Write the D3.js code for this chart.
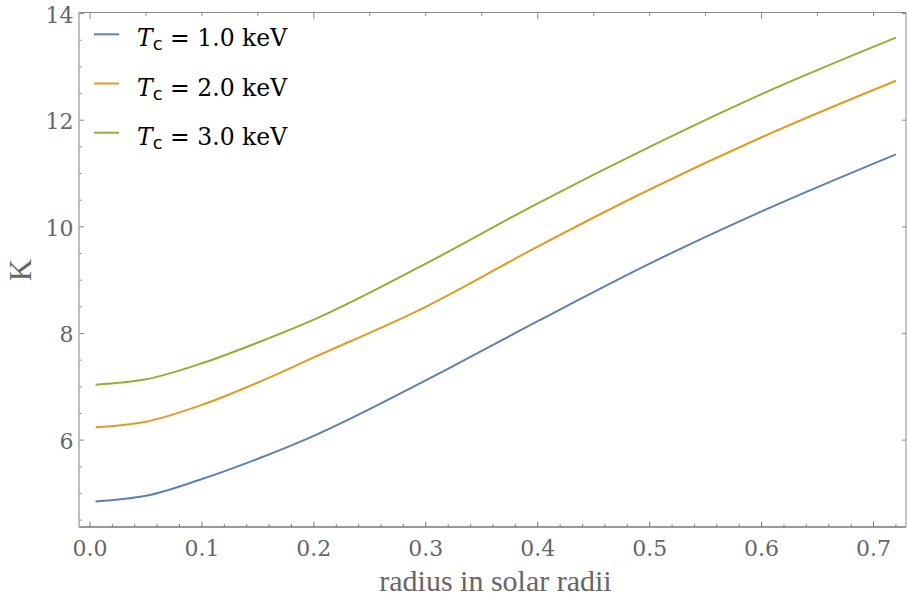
<!DOCTYPE html>
<html><head><meta charset="utf-8">
<script src="https://cdn.jsdelivr.net/npm/d3@7"></script>
<style>
html,body{margin:0;padding:0;background:#fff;}
svg{display:block;}
</style></head>
<body>
<svg id="chart" width="907" height="599"></svg>
<script>
// ---- data ----
const radius = [0.005, 0.05, 0.1, 0.15, 0.2, 0.3, 0.4, 0.5, 0.6, 0.72];
const kT1 = [4.85, 4.955, 5.27, 5.65, 6.08, 7.12, 8.23, 9.31, 10.29, 11.36];
const kT2 = [6.24, 6.345, 6.66, 7.08, 7.55, 8.50, 9.63, 10.70, 11.68, 12.74];
const kT3 = [7.04, 7.14, 7.44, 7.83, 8.26, 9.31, 10.44, 11.50, 12.49, 13.55];
const seriesNames = ["1.0", "2.0", "3.0"];
const seriesColors = ["#5E81B5", "#E19C24", "#8FB032"];
const xTicks = [0.0, 0.1, 0.2, 0.3, 0.4, 0.5, 0.6, 0.7];
const yTicks = [6, 8, 10, 12, 14];
const xLabel = "radius in solar radii";
const yLabel = "K";

const svg = d3.select("#chart");
const L = 79, R = 906, T = 12.5, B = 527;
const x = d3.scaleLinear().domain([-0.0098, 0.729]).range([L, R]);
const y = d3.scaleLinear().domain([4.37, 14.02]).range([B, T]);

const series = [kT1, kT2, kT3];

// frame lines
svg.append("line").attr("x1", L).attr("x2", R).attr("y1", T).attr("y2", T).attr("stroke", "#8a8a8a").attr("stroke-width", 1);
svg.append("line").attr("x1", R).attr("x2", R).attr("y1", T).attr("y2", B).attr("stroke", "#8a8a8a").attr("stroke-width", 1);

const tickFont = "'DejaVu Serif', serif";
const gray = "#666";

// bottom axis: major 0.1, minor 0.02
const minorX = d3.range(0, 0.73, 0.02).map(v => +v.toFixed(2));
const gB = svg.append("g");
minorX.forEach(v => {
  const major = Math.abs(v * 10 - Math.round(v * 10)) < 1e-6;
  gB.append("line").attr("x1", x(v)).attr("x2", x(v)).attr("y1", B).attr("y2", B - (major ? 5.5 : 2.8))
    .attr("stroke", "#777").attr("stroke-width", 1);
});
gB.selectAll("text").data(xTicks).join("text")
  .attr("x", d => x(d)).attr("y", 556).attr("text-anchor", "middle")
  .attr("font-family", tickFont).attr("font-size", 22).attr("fill", gray)
  .text(d => d.toFixed(1));
svg.append("line").attr("x1", L).attr("x2", R).attr("y1", B).attr("y2", B).attr("stroke", "#777").attr("stroke-width", 1.3);

// top axis ticks: major 0.2, minor 0.05
d3.range(0, 0.73, 0.05).map(v => +v.toFixed(2)).forEach(v => {
  const major = Math.abs(v * 5 - Math.round(v * 5)) < 1e-6;
  svg.append("line").attr("x1", x(v)).attr("x2", x(v)).attr("y1", T).attr("y2", T + (major ? 6.5 : 3.5))
    .attr("stroke", "#8a8a8a").attr("stroke-width", 1);
});

// left axis: major 2, minor 0.5
const minorY = d3.range(4.5, 14.01, 0.5);
const gL = svg.append("g");
minorY.forEach(v => {
  const major = Math.abs(v / 2 - Math.round(v / 2)) < 1e-6;
  gL.append("line").attr("x1", L).attr("x2", L + (major ? 5 : 2.7)).attr("y1", y(v)).attr("y2", y(v))
    .attr("stroke", "#888").attr("stroke-width", 1);
});
gL.selectAll("text").data(yTicks).join("text")
  .attr("x", 73.5).attr("y", d => y(d) + 9).attr("text-anchor", "end")
  .attr("font-family", tickFont).attr("font-size", 22).attr("fill", gray)
  .text(d => d);
svg.append("line").attr("x1", L).attr("x2", L).attr("y1", T).attr("y2", B).attr("stroke", "#aaa").attr("stroke-width", 1.5);

// right axis ticks
yTicks.forEach(v => {
  svg.append("line").attr("x1", R).attr("x2", R - 4).attr("y1", y(v)).attr("y2", y(v))
    .attr("stroke", "#8a8a8a").attr("stroke-width", 1);
});

// curves
const line = d3.line().x((d, i) => x(radius[i])).y(d => y(d)).curve(d3.curveMonotoneX);
series.forEach((s, i) => {
  svg.append("path").datum(s).attr("d", line).attr("fill", "none")
    .attr("stroke", seriesColors[i]).attr("stroke-width", 2);
});

// axis labels
svg.append("text").attr("x", 495.5).attr("y", 591).attr("text-anchor", "middle")
  .attr("font-family", "'Liberation Serif', serif").attr("font-size", 30).attr("fill", gray)
  .text(xLabel);
svg.append("text").attr("transform", "translate(31,270) rotate(-90)").attr("text-anchor", "middle")
  .attr("font-family", "'Liberation Serif', serif").attr("font-size", 31).attr("fill", gray)
  .text(yLabel);

// legend
const legY = [34.3, 83.5, 132.7];
seriesNames.forEach((n, i) => {
  const g = svg.append("g");
  g.append("line").attr("x1", 94).attr("x2", 119).attr("y1", legY[i]).attr("y2", legY[i])
    .attr("stroke", seriesColors[i]).attr("stroke-width", 2);
  const t = g.append("text").attr("x", 137).attr("y", legY[i] + 12)
    .attr("font-family", "'DejaVu Serif', serif").attr("font-size", 23.5).attr("fill", "#000");
  t.append("tspan").attr("font-style", "italic").text("T");
  t.append("tspan").attr("font-family", "'DejaVu Sans', sans-serif").attr("font-size", 18).attr("dy", 4).text("c");
  t.append("tspan").attr("dy", -4).text(" = " + n + " keV");
});
</script>
</body></html>
